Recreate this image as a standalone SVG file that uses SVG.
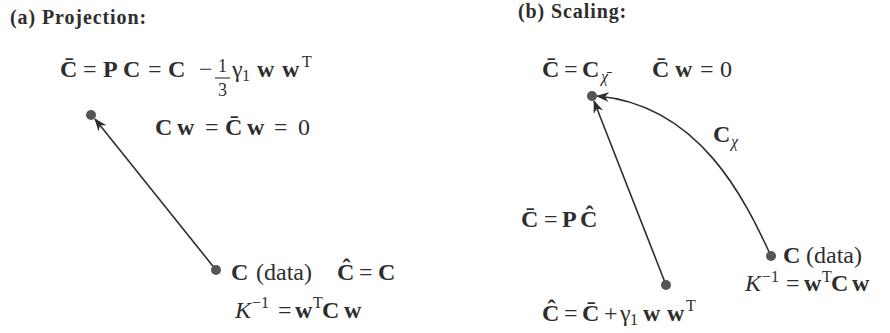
<svg xmlns="http://www.w3.org/2000/svg" width="890" height="333" viewBox="0 0 890 333">
<style>
text{font-family:"Liberation Serif","Times New Roman",serif;fill:#2e2e2e;font-size:24px}
.t{font-size:20px;font-weight:bold;letter-spacing:0.9px}
.b{font-weight:bold}
.s{font-size:16px}
.fr{font-size:18px}
.i{font-style:italic}
.edge{stroke:#2e2e2e;stroke-width:1.6;fill:none}
.dot{fill:#555}
</style>
<defs>
<marker id="ah" viewBox="0 0 13 10" refX="12" refY="5" markerWidth="13" markerHeight="10" markerUnits="userSpaceOnUse" orient="auto">
<path d="M0,0 L13,5 L0,10 L4,5 z" fill="#2e2e2e"/>
</marker>
</defs>
<g id="title-a"><text class="t" x="10" y="24">(a) Projection:</text></g>
<g id="title-b"><text class="t" x="518" y="18">(b) Scaling:</text></g>
<g id="connectors">
<line class="edge" x1="216" y1="270" x2="95" y2="119" marker-end="url(#ah)"/>
<line class="edge" x1="666" y1="285" x2="594" y2="101" marker-end="url(#ah)"/>
<path class="edge" d="M771,256 C745,200 700,105 597,96" marker-end="url(#ah)"/>
</g>
<g id="node-a-proj">
<circle class="dot" cx="91" cy="115" r="5"/>
<text y="77"><tspan class="b" x="60">C̄</tspan><tspan x="83">=</tspan><tspan class="b" x="103">P</tspan><tspan class="b" x="123">C</tspan><tspan x="148">=</tspan><tspan class="b" x="168">C</tspan><tspan x="199">−</tspan></text>
<text class="fr" x="218" y="72">1</text>
<line x1="215" y1="78" x2="230" y2="78" stroke="#2e2e2e" stroke-width="1.1"/>
<text class="fr" x="218" y="96">3</text>
<text y="77"><tspan x="232">γ</tspan><tspan class="s" x="242" dy="4">1</tspan><tspan class="b" x="257" dy="-4">w</tspan><tspan class="b" x="282">w</tspan><tspan class="s" x="302" dy="-10">T</tspan></text>
<text y="135"><tspan class="b" x="155">C</tspan><tspan class="b" x="177">w</tspan><tspan x="205">=</tspan><tspan class="b" x="225">C̄</tspan><tspan class="b" x="247">w</tspan><tspan x="274">=</tspan><tspan x="298">0</tspan></text>
</g>
<g id="node-a-data">
<circle class="dot" cx="216" cy="270" r="5"/>
<text y="280"><tspan class="b" x="231">C</tspan><tspan x="256">(data)</tspan><tspan class="b" x="337">Ĉ</tspan><tspan x="359">=</tspan><tspan class="b" x="378">C</tspan></text>
<text y="318"><tspan class="i" x="235">K</tspan><tspan class="s" x="252" dy="-10">−1</tspan><tspan x="278" dy="10">=</tspan><tspan class="b" x="295">w</tspan><tspan class="s" x="313" dy="-10">T</tspan><tspan class="b" x="322" dy="10">C</tspan><tspan class="b" x="344">w</tspan></text>
</g>
<g id="node-b-top">
<circle class="dot" cx="592" cy="96" r="5"/>
<text y="77"><tspan class="b" x="542">C̄</tspan><tspan x="564">=</tspan><tspan class="b" x="582">C</tspan><tspan class="s i" x="601" dy="5">χ̄</tspan></text>
<text y="77"><tspan class="b" x="652">C̄</tspan><tspan class="b" x="675">w</tspan><tspan x="700">=</tspan><tspan x="720">0</tspan></text>
</g>
<g id="node-b-hat">
<circle class="dot" cx="666" cy="285" r="5"/>
<text y="227"><tspan class="b" x="521">C̄</tspan><tspan x="544">=</tspan><tspan class="b" x="562">P</tspan><tspan class="b" x="580">Ĉ</tspan></text>
<text y="321"><tspan class="b" x="542">Ĉ</tspan><tspan x="564">=</tspan><tspan class="b" x="582">C̄</tspan><tspan x="604">+</tspan><tspan x="620">γ</tspan><tspan class="s" x="630" dy="4">1</tspan><tspan class="b" x="643" dy="-4">w</tspan><tspan class="b" x="667">w</tspan><tspan class="s" x="686" dy="-10">T</tspan></text>
</g>
<g id="node-b-data">
<circle class="dot" cx="771" cy="256" r="5"/>
<text y="263"><tspan class="b" x="783">C</tspan><tspan x="806">(data)</tspan></text>
<text y="291"><tspan class="i" x="745">K</tspan><tspan class="s" x="762" dy="-9">−1</tspan><tspan x="786" dy="9">=</tspan><tspan class="b" x="804">w</tspan><tspan class="s" x="822" dy="-9">T</tspan><tspan class="b" x="831" dy="9">C</tspan><tspan class="b" x="852">w</tspan></text>
</g>
<g id="label-cchi">
<text y="142"><tspan class="b" x="713">C</tspan><tspan class="s i" x="731" dy="5">χ</tspan></text>
</g>
</svg>
